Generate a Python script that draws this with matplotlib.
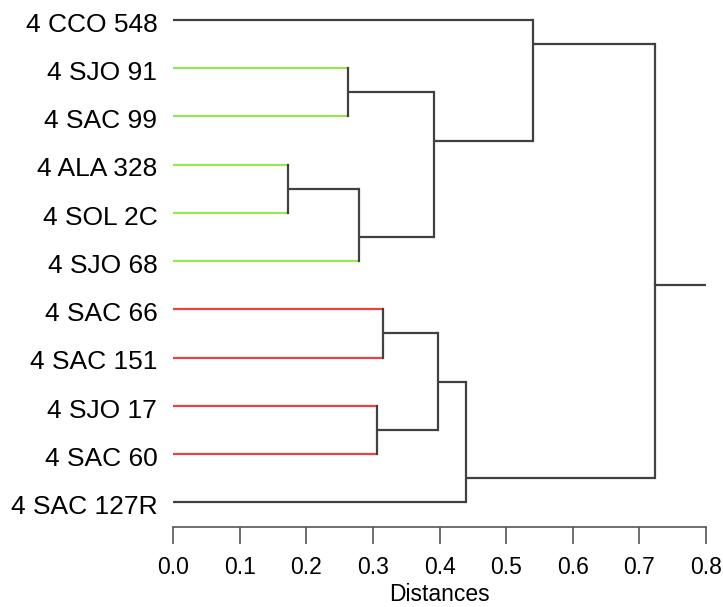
import matplotlib.pyplot as plt

plt.rcParams['font.family'] = ['Liberation Sans', 'DejaVu Sans']

# leaves, top to bottom
leaves = ['4 CCO 548', '4 SJO 91', '4 SAC 99', '4 ALA 328', '4 SOL 2C', '4 SJO 68',
          '4 SAC 66', '4 SAC 151', '4 SJO 17', '4 SAC 60', '4 SAC 127R']
leaf_group = ['none', 'green', 'green', 'green', 'green', 'green',
              'red', 'red', 'red', 'red', 'none']

# merges: (left node, right node, distance); new nodes numbered from len(leaves)
merges = [(3, 4, 0.172),
          (1, 2, 0.262),
          (11, 5, 0.279),
          (8, 9, 0.306),
          (6, 7, 0.315),
          (12, 13, 0.392),
          (15, 14, 0.398),
          (17, 10, 0.439),
          (0, 16, 0.540),
          (19, 18, 0.724)]

ticks = [0.0, 0.1, 0.2, 0.3, 0.4, 0.5, 0.6, 0.7, 0.8]

colors = {'none': '#404040', 'green': '#98E655', 'red': '#EE4040'}
dark = '#404040'
lw = 1.6
xmax = 0.8

fig = plt.figure(figsize=(7.23, 6.07), dpi=100)
ax = fig.add_axes([173.3 / 723, 80.3 / 607, (706 - 173.3) / 723, 526.7 / 607])

# node info: y position, first leaf, last leaf, height
n = len(leaves)
nodes = {i: (float(i), i, i, 0.0) for i in range(n)}

def draw_child(c, h):
    y, lo, hi, ch = nodes[c]
    col = colors[leaf_group[c]] if c < n else dark
    ax.plot([ch, h], [y, y], color=col, lw=lw, solid_capstyle='butt', zorder=2)

for k, (a, b, h) in enumerate(merges):
    ya, loa, hia, _ = nodes[a]
    yb, lob, hib, _ = nodes[b]
    draw_child(a, h)
    draw_child(b, h)
    ax.plot([h, h], [ya, yb], color=dark, lw=lw, solid_capstyle='projecting', zorder=3)
    y = (hia + lob) / 2.0
    nodes[n + k] = (y, min(loa, lob), max(hia, hib), h)

root = nodes[n + len(merges) - 1]
ax.plot([root[3], xmax], [root[0], root[0]], color=dark, lw=lw, zorder=2)

for i, name in enumerate(leaves):
    ax.annotate(name, (0, i), xytext=(-11.5, -8.4), textcoords='offset points',
                ha='right', va='baseline', fontsize=19, color='black',
                annotation_clip=False)

ax.set_xlim(0, xmax)
ax.set_ylim((526.7 - 20) / 48.23, -20 / 48.23)
for s in ['top', 'right', 'left']:
    ax.spines[s].set_visible(False)
ax.spines['bottom'].set_color('#555555')
ax.spines['bottom'].set_linewidth(1.2)
ax.spines['bottom'].set_bounds(0, xmax)
ax.set_yticks([])
ax.set_xticks(ticks)
ax.set_xticklabels(['%.1f' % t for t in ticks])
ax.tick_params(axis='x', length=12, width=1.2, color='#555555', pad=9,
               labelsize=16.5, labelcolor='black')

fig.text(439.7 / 723, (607 - 601) / 607, 'Distances', ha='center', va='baseline',
         fontsize=16.5)

fig.savefig('out.png', dpi=100)
